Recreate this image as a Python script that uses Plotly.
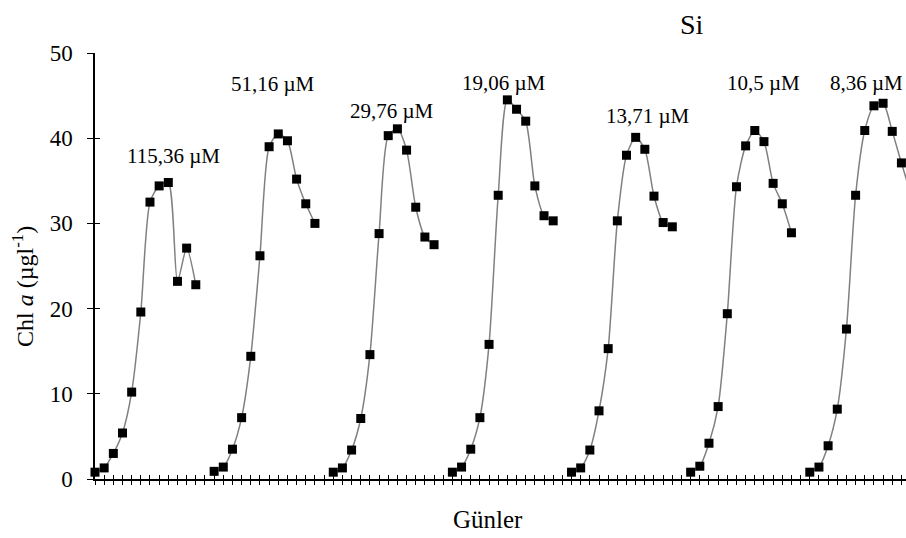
import plotly.graph_objects as go

# ---- data ----
group_labels = ["115,36 µM", "51,16 µM", "29,76 µM", "19,06 µM", "13,71 µM", "10,5 µM", "8,36 µM"]
g1 = [0.8, 1.3, 3.0, 5.4, 10.2, 19.6, 32.5, 34.4, 34.8, 23.2, 27.1, 22.8]
g2 = [0.9, 1.4, 3.5, 7.2, 14.4, 26.2, 39.0, 40.5, 39.7, 35.2, 32.3, 30.0]
g3 = [0.8, 1.3, 3.4, 7.1, 14.6, 28.8, 40.3, 41.1, 38.6, 31.9, 28.4, 27.5]
g4 = [0.8, 1.4, 3.5, 7.2, 15.8, 33.3, 44.5, 43.4, 42.0, 34.4, 30.9, 30.3]
g5 = [0.8, 1.3, 3.4, 8.0, 15.3, 30.3, 38.0, 40.1, 38.7, 33.2, 30.1, 29.6]
g6 = [0.8, 1.5, 4.2, 8.5, 19.4, 34.3, 39.1, 40.9, 39.6, 34.7, 32.3, 28.9]
g7 = [0.8, 1.4, 3.9, 8.2, 17.6, 33.3, 40.9, 43.8, 44.1, 40.8, 37.1, 33.5]
groups = [g1, g2, g3, g4, g5, g6, g7]
slot = 13  # 12 days per experiment + one empty slot

# ---- style / layout ----
FONT = "Liberation Serif"
label_pos = [(8.6, 37.9), (19.4, 46.4), (32.4, 43.2), (44.6, 46.5),
             (60.3, 42.6), (73.0, 46.5), (84.2, 46.5)]

fig = go.Figure()
for gi, vals in enumerate(groups):
    xs = [gi * slot + i for i in range(len(vals))]
    fig.add_trace(go.Scatter(
        x=xs, y=vals, mode="lines+markers",
        line=dict(color="#808080", width=1.5, shape="spline", smoothing=0.7),
        marker=dict(symbol="square", size=9, color="black"),
        cliponaxis=False, showlegend=False, hoverinfo="x+y"))

# dummy trace for overlay axes (crossing ticks)
fig.add_trace(go.Scatter(x=[None], y=[None], xaxis="x2", yaxis="y2", showlegend=False))

xr = [0, 88.5]
fig.update_layout(
    width=906, height=538,
    margin=dict(l=95, r=0, t=53, b=59),
    plot_bgcolor="white", paper_bgcolor="white",
    font=dict(family=FONT, color="black", size=20),
    xaxis=dict(range=xr, showgrid=False, zeroline=False, showline=True,
               linecolor="black", linewidth=2, ticks="outside", ticklen=4,
               tickwidth=1.3, tickcolor="black", dtick=1, tick0=0,
               showticklabels=False),
    yaxis=dict(range=[0, 50], showgrid=False, zeroline=False, showline=True,
               linecolor="black", linewidth=1.5, ticks="outside", ticklen=6,
               tickwidth=1.3, tickcolor="black", dtick=10, tick0=0,
               tickfont=dict(family=FONT, size=23), ticklabelstandoff=10),
    xaxis2=dict(range=xr, overlaying="x", anchor="y2", side="bottom",
                showgrid=False, zeroline=False, showline=False,
                ticks="inside", ticklen=4, tickwidth=1.3, tickcolor="black",
                dtick=1, tick0=0, showticklabels=False),
    yaxis2=dict(range=[0, 50], overlaying="y", anchor="x2", side="left",
                showgrid=False, zeroline=False, showline=False,
                ticks="inside", ticklen=5, tickwidth=1.3, tickcolor="black",
                dtick=10, tick0=0, showticklabels=False),
)

for (lx, ly), txt in zip(label_pos, group_labels):
    fig.add_annotation(x=lx, y=ly, xref="x", yref="y", text=txt, showarrow=False,
                       font=dict(family=FONT, size=21), xanchor="center", yanchor="middle")

fig.add_annotation(x=0.736, y=1.067, xref="paper", yref="paper", text="Si",
                   showarrow=False, font=dict(family=FONT, size=28),
                   xanchor="center", yanchor="middle")
fig.add_annotation(x=0.485, y=-0.096, xref="paper", yref="paper", text="Günler",
                   showarrow=False, font=dict(family=FONT, size=25),
                   xanchor="center", yanchor="middle")
fig.add_annotation(x=-0.0888, y=0.453, xref="paper", yref="paper",
                   text="Chl <i>a</i> (µgl<sup>-1</sup>)", textangle=-90,
                   showarrow=False, font=dict(family=FONT, size=24),
                   xanchor="center", yanchor="middle")

fig.write_html("out.html")
